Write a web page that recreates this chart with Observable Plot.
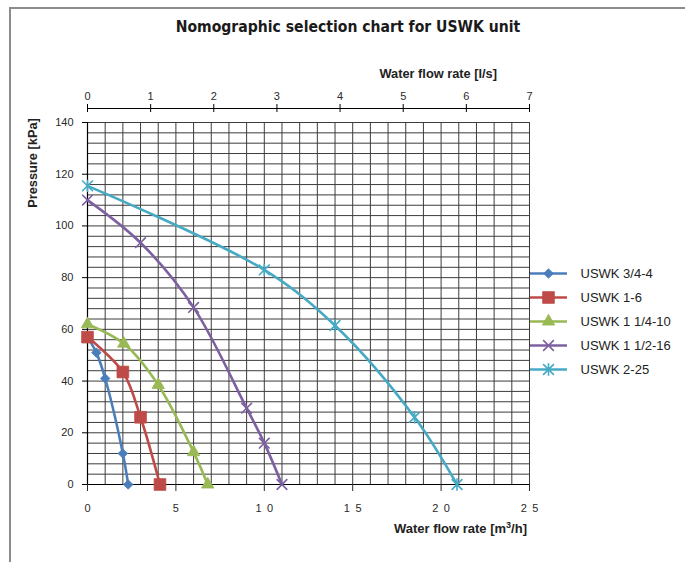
<!DOCTYPE html>
<html><head><meta charset="utf-8">
<script src="https://cdn.jsdelivr.net/npm/d3@7"></script>
<script src="https://cdn.jsdelivr.net/npm/@observablehq/plot@0.6"></script>
<style>
body{margin:0;background:#fff;}
#wrap{position:relative;width:685px;height:562px;overflow:hidden;font-family:"Liberation Sans",Arial,sans-serif;color:#222;}
.abs{position:absolute;white-space:nowrap;}
#border{left:9px;top:7px;width:700px;height:600px;border-left:2px solid #8c8c8c;border-top:2px solid #8c8c8c;}
#title{left:148px;width:400px;top:18px;text-align:center;font-weight:bold;font-size:15.6px;font-family:"Liberation Sans Narrow","DejaVu Sans Condensed","Liberation Sans",sans-serif;color:#1a1a1a;}
#toplabel{left:297px;width:200px;top:66px;text-align:right;font-weight:bold;font-size:12.8px;}
#botlabel{left:327px;width:200px;top:521px;text-align:right;font-weight:bold;font-size:13px;}
#ylabel{left:32px;top:163px;transform:translate(-50%,-50%) rotate(-90deg);font-weight:bold;font-size:12.8px;}
#main{left:0;top:0;}
#topaxis{left:0;top:72px;}
#legend{left:525px;top:240px;}
</style>
</head><body>
<div id="wrap">
  <div id="border" class="abs"></div>
  <div id="main" class="abs"></div>
  <div id="topaxis" class="abs"></div>
  <div id="legend" class="abs"></div>
  <div id="title" class="abs">Nomographic selection chart for USWK unit</div>
  <div id="toplabel" class="abs">Water flow rate [l/s]</div>
  <div id="botlabel" class="abs">Water flow rate [m<sup style="font-size:9px;vertical-align:5px;line-height:0">3</sup>/h]</div>
  <div id="ylabel" class="abs">Pressure [kPa]</div>
</div>
<script>
// ---- data ----
const seriesNames = ["USWK 3/4-4", "USWK 1-6", "USWK 1 1/4-10", "USWK 1 1/2-16", "USWK 2-25"];
const flow_34_4   = [0, 0.5, 1.0, 2.0, 2.3];
const press_34_4  = [57, 51, 41, 12, 0];
const flow_1_6    = [0, 2.0, 3.0, 4.1];
const press_1_6   = [57, 43.5, 26, 0];
const flow_114_10 = [0, 2.05, 4.0, 6.0, 6.8];
const press_114_10= [62, 54.5, 38.5, 12.5, 0];
const flow_112_16 = [0, 3.0, 6.0, 9.0, 10.0, 11.0];
const press_112_16= [110, 93.5, 68.5, 29.5, 16, 0];
const flow_2_25   = [0, 10.0, 14.0, 18.5, 20.9];
const press_2_25  = [115.5, 83, 61.5, 26, 0];
const xTicks  = [0, 5, 10, 15, 20, 25];          // m3/h
const yTicks  = [0, 20, 40, 60, 80, 100, 120, 140]; // kPa
const lsTicks = [0, 1, 2, 3, 4, 5, 6, 7];        // l/s

const seriesFlows = [flow_34_4, flow_1_6, flow_114_10, flow_112_16, flow_2_25];
const seriesPress = [press_34_4, press_1_6, press_114_10, press_112_16, press_2_25];

// ---- styles ----
const colors = ["#4A7EBB", "#BE4B48", "#98B954", "#7D60A0", "#46AAC5"];
const starSym = {draw(ctx, size) {
  const r = Math.sqrt(size / Math.PI);
  ctx.moveTo(-r, -r); ctx.lineTo(r, r);
  ctx.moveTo(r, -r); ctx.lineTo(-r, r);
  ctx.moveTo(0, -r * 1.15); ctx.lineTo(0, r * 1.15);
}};
const markers = [
  {symbol: "diamond2", r: 4.3, filled: true},
  {symbol: "square", r: 6.6, filled: true},
  {symbol: "triangle", r: 4.6, filled: true},
  {symbol: "times", r: 4.9, filled: false},
  {symbol: starSym, r: 5.4, filled: false}
];

const rows = seriesNames.flatMap((name, i) =>
  seriesFlows[i].map((f, j) => ({series: name, flow: f, pressure: seriesPress[i][j]})));

const gridStroke = "#3c3c3c";
const marks = [
  Plot.ruleX(d3.range(0, 26, 1), {stroke: gridStroke, strokeWidth: 1}),
  Plot.ruleY(d3.range(0, 141, 4), {stroke: gridStroke, strokeWidth: 1}),
  Plot.ruleX([0], {stroke: "#000", strokeWidth: 1.2}),
  Plot.ruleY([0], {stroke: "#000", strokeWidth: 1.2}),
  Plot.axisY({ticks: yTicks, tickSize: 5, tickPadding: 9, label: null, fontSize: 11, stroke: "#000"}),
  Plot.axisX({ticks: xTicks, tickSize: 7, tickPadding: 13, label: null, fontSize: 11,
              tickFormat: d => String(d).split("").join("\u2002")})
];
seriesNames.forEach((name, i) => {
  const data = rows.filter(r => r.series === name);
  marks.push(Plot.line(data, {x: "flow", y: "pressure", stroke: colors[i], strokeWidth: 2.6, curve: "catmull-rom"}));
  const m = markers[i];
  marks.push(Plot.dot(data, {x: "flow", y: "pressure", symbol: () => m.symbol, r: m.r,
    fill: m.filled ? colors[i] : "none", stroke: colors[i], strokeWidth: m.filled ? 0.8 : 1.6}));
});

const main = Plot.plot({
  width: 685, height: 562,
  marginLeft: 87, marginRight: 156, marginTop: 122, marginBottom: 78,
  x: {domain: [0, 25]},
  y: {domain: [0, 140]},
  symbol: {type: "identity"},
  style: {fontFamily: "'Liberation Sans', Arial, sans-serif", fontSize: "11px", color: "#2a2a2a", background: "transparent", overflow: "visible"},
  marks
});
document.getElementById("main").appendChild(main);

// ---- top l/s axis ----
const topAxis = Plot.plot({
  width: 685, height: 44,
  marginLeft: 87, marginRight: 156, marginTop: 32, marginBottom: 4,
  x: {domain: [0, 7]},
  y: {domain: [-1, 1], axis: null},
  style: {fontFamily: "'Liberation Sans', Arial, sans-serif", fontSize: "11px", color: "#2a2a2a", background: "transparent", overflow: "visible"},
  marks: [
    Plot.ruleY([0], {stroke: "#000", strokeWidth: 1}),
    Plot.ruleX(lsTicks, {x: d => d, y1: -1, y2: 1, stroke: "#000", strokeWidth: 1}),
    Plot.axisX({ticks: lsTicks, anchor: "top", tickSize: 0, tickPadding: 5, label: null, fontSize: 11, tickFormat: d => String(d)})
  ]
});
document.getElementById("topaxis").appendChild(topAxis);

// ---- legend ----
const legend = Plot.plot({
  width: 160, height: 160,
  marginLeft: 0, marginRight: 0, marginTop: 0, marginBottom: 0,
  x: {domain: [0, 160], range: [0, 160], axis: null},
  y: {type: "point", domain: seriesNames, range: [19, 143], axis: null},
  style: {fontFamily: "'Liberation Sans', Arial, sans-serif", fontSize: "13px", color: "#222", background: "transparent", overflow: "visible"},
  marks: [
    ...seriesNames.map((name, i) => Plot.ruleY([name], {y: d => d, x1: 5, x2: 42, stroke: colors[i], strokeWidth: 2.6})),
    ...seriesNames.map((name, i) => Plot.dot([name], {y: d => d, x: 23, symbol: () => markers[i].symbol, r: markers[i].r,
      fill: markers[i].filled ? colors[i] : "none", stroke: colors[i], strokeWidth: markers[i].filled ? 0.8 : 1.6})),
    Plot.text(seriesNames, {y: d => d, x: 55, text: d => d, textAnchor: "start", fill: "#222", fontSize: 13})
  ],
  symbol: {type: "identity"}
});
document.getElementById("legend").appendChild(legend);
</script>
</body></html>
